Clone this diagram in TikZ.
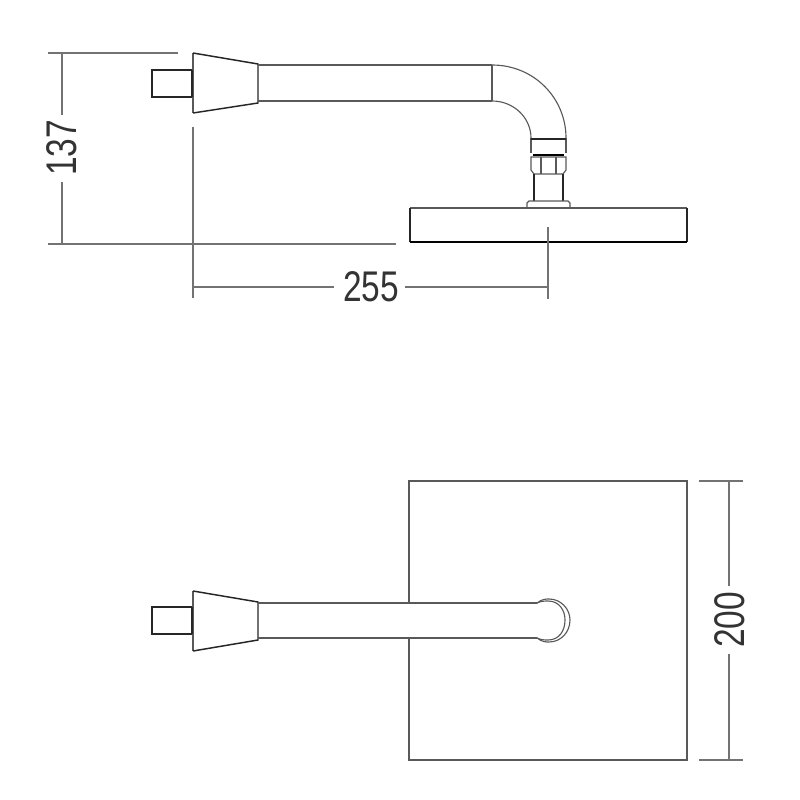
\documentclass[tikz,border=0pt]{standalone}
\usepackage{fontspec}
\setmainfont{Liberation Sans}
\usetikzlibrary{positioning}
\tikzset{
 dimline/.style={draw,black!55,line width=0.3pt},
 outline/.style={draw,black!65,line width=0.32pt},
 heavy/.style={draw,black!85,line width=0.42pt},
 dimlabel/.style={font=\fontsize{12.2}{12}\selectfont,text=black!80,inner sep=0pt,xscale=0.78}
}
\begin{document}
\begin{tikzpicture}[x=0.01cm,y=-0.01cm]
 \useasboundingbox (0,0) rectangle (800,800);
 % side view
 \draw[heavy](192,70)--(152,70)--(152,97)--(192,97);
 \draw[outline](193,53)--(193,113);
 \draw[heavy](192,70)--(192,97);
 \draw[heavy](193,53)--(258,64)--(258,103)--(193,113);
 \draw[outline](258,65)--(492,65);
 \draw[outline](258,101)--(492,101);
 \draw[outline](492,65)--(492,101);
 \draw[outline](492,65) .. controls (534,65) and (566,98) .. (566,138);
 \draw[outline](492,101) .. controls (514,101) and (531,118) .. (531,138);
 \draw[outline](531,138)--(531,153);
 \draw[outline](566,138)--(566,153);
 \draw[heavy](531,139)--(566,139);
 \draw[draw=black,line width=0.8pt](533,155)--(564,155);
 \draw[outline](531,157)--(566,157)--(566,170)--(563,174)--(534,174)--(531,170)--cycle;
 \draw[outline](541,157)--(541,174);
 \draw[outline](556,157)--(556,174);
 \draw[heavy](534,174)--(534,201);
 \draw[heavy](563,174)--(563,201);
 \draw[outline](527,208)--(527,203)--(529,201)--(568,201)--(570,203)--(570,208);
 \draw[outline](410,208)--(687,208);
 \draw[heavy](410,208)--(410,242);
 \draw[heavy](687,208)--(687,242);
 \draw[draw=black,line width=0.6pt](410,242)--(687,242);
 % plan view
 \draw[outline](409,603)--(409,481)--(687,481)--(687,760)--(409,760)--(409,638);
 \draw[heavy](192,607)--(152,607)--(152,634)--(192,634);
 \draw[outline](193,591)--(193,651);
 \draw[heavy](192,607)--(192,634);
 \draw[heavy](193,591)--(258,602)--(258,640)--(193,651);
 \draw[outline](258,603)--(537,603);
 \draw[outline](258,638)--(537,638);
 \draw[outline](537,603) .. controls (542,599) and (546,599) .. (549,599) .. controls (561,599) and (570,609) .. (570,620) .. controls (570,632) and (561,642) .. (549,642) .. controls (546,642) and (542,642) .. (537,638);
 \draw[outline](537,603) .. controls (541,601) and (545,601) .. (548,601) .. controls (559,601) and (565,610) .. (565,620) .. controls (565,631) and (559,640) .. (548,640) .. controls (545,640) and (541,640) .. (537,638);
 % dimensions
 \node[dimlabel] (len255) at (371,287) {255};
 \node[rotate=90,dimlabel] (ht137) at (62,148) {137};
 \node[rotate=90,dimlabel] (wd200) at (730,620) {200};
 \coordinate (a1) at (193,287);
 \coordinate (a2) at (548,287);
 \coordinate (b1) at (62,53);
 \coordinate (b2) at (62,244);
 \coordinate (c1) at (729,481);
 \coordinate (c2) at (729,760);
 \draw[dimline](193,127)--(193,298);
 \draw[dimline](548,227)--(548,299);
 \draw[dimline](a1)--(334,287);
 \draw[dimline](405,287)--(a2);
 \draw[dimline](48,53)--(178,53);
 \draw[dimline](48,244)--(396,244);
 \draw[dimline](b1)--(62,115);
 \draw[dimline](62,182)--(b2);
 \draw[dimline](699,481)--(743,481);
 \draw[dimline](699,760)--(743,760);
 \draw[dimline](c1)--(729,586);
 \draw[dimline](729,654)--(c2);
\end{tikzpicture}
\end{document}
